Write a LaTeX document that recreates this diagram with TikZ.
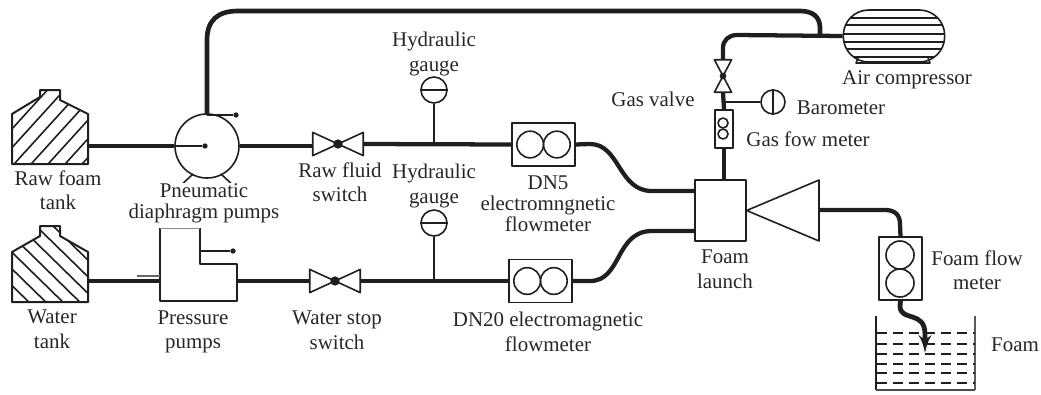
\documentclass[tikz,border=0pt]{standalone}
\usepackage{fontspec}
\setmainfont{Liberation Serif}
\usetikzlibrary{arrows}
\begin{document}
\begin{tikzpicture}[x=0.75pt,y=-0.75pt,color=black!88,line join=round]
      \tikzstyle{pipe} = [line width=3.2pt]
      \tikzstyle{thin pipe} = [line width=1.9pt]
      \tikzstyle{outline} = [line width=1.2pt]
      \tikzstyle{label} = [font=\fontsize{15.7}{18.4}\selectfont, align=center, inner sep=0pt, color=black!85]
      \tikzstyle{valve node} = [minimum width=37.5pt, minimum height=17pt, inner sep=0pt]
      \tikzstyle{gas valve node} = [minimum width=12.5pt, minimum height=24pt, inner sep=0pt]
      \tikzstyle{meter} = [draw, outline, inner sep=0pt]
      \tikzstyle{round part} = [circle, draw, outline, inner sep=0pt]
      \tikzstyle{dot} = [circle, fill, inner sep=0pt, minimum size=7pt]
      \tikzstyle{tip} = [circle, fill, inner sep=0pt, minimum size=4pt]
      %nodes
      \node (rawtank)   [minimum width=57pt, minimum height=55.5pt, inner sep=0pt] at (50,127) {};
      \node (watertank) [minimum width=57pt, minimum height=57pt, inner sep=0pt] at (50,264) {};
      \node[round part, minimum size=48pt] (pneumatic) at (207,146) {};
      \node (pressure)  [minimum width=58pt, minimum height=55pt, inner sep=0pt] at (198.5,264.5) {};
      \node[valve node] (rawswitch) at (338,144) {};
      \node[valve node] (waterswitch) at (335,281) {};
      \node[gas valve node] (gasvalve) at (723,76) {};
      \node[meter, minimum width=47pt, minimum height=32pt] (dn5) at (543.5,144.5) {};
      \node[meter, minimum width=47pt, minimum height=32pt] (dn20) at (540.5,281) {};
      \node[meter, minimum width=13.5pt, minimum height=28.5pt] (gasmeter) at (724,129) {};
      \node[meter, minimum width=32pt, minimum height=47pt] (foammeter) at (900.5,268.5) {};
      \node[round part, minimum size=19.5pt] (hgaugeup) at (434,90) {};
      \node[round part, minimum size=19.5pt] (hgaugedown) at (434,223) {};
      \node[round part, minimum size=18pt] (barometer) at (773,102) {};
      \node[draw, outline, minimum width=38pt, minimum height=46pt, inner sep=0pt] (launch) at (720.5,210.5) {};
      \node[draw, outline, rounded corners=19pt, minimum width=76pt, minimum height=39pt, inner sep=0pt] (compressor) at (894,36) {};
      \coordinate (launchcone) at (819,210);
      \coordinate (bath) at (925,353);

      %tanks
      \begin{scope}
        \clip (12,164) -- (12,114) -- (40,97) -- (40,90) -- (60,90) -- (60,100) -- (88,114) -- (88,164) -- cycle;
        \foreach \hatch in {0,...,9}
          \draw[outline] (-29+17*\hatch,174) -- (51+17*\hatch,86);
      \end{scope}
      \begin{scope}
        \clip (12,302) -- (12,252) -- (40,236) -- (40,226) -- (60,226) -- (60,236) -- (88,252) -- (88,302) -- cycle;
        \foreach \hatch in {0,...,9}
          \draw[outline] (-70+17*\hatch,222) -- (22+17*\hatch,312);
      \end{scope}
      \draw[line width=1.5pt] (12,164) -- (12,114) -- (40,97) -- (40,90) -- (60,90) -- (60,100) -- (88,114) -- (88,164) -- cycle;
      \draw[line width=1.5pt] (12,302) -- (12,252) -- (40,236) -- (40,226) -- (60,226) -- (60,236) -- (88,252) -- (88,302) -- cycle;

      %pumps
      \draw[outline] (177,189) -- (193,174) (237,189) -- (221,174);
      \draw[line width=1.4pt] (177,190) -- (237,190);
      \draw[outline] (160,228) -- (160,301) -- (237,301) -- (237,264) -- (200,264) -- (200,228);
      \draw[black!45, line width=0.6pt] (160,228) -- (200,228);
      \draw[thin pipe, black!60] (137,276) -- (160,276);
      \node[tip] (pneumatictip) at (236,115) {};
      \node[tip] (pneumaticin) at (205,146) {};
      \node[tip] (pressuretip) at (233,251) {};
      \draw[outline] (207,115) -- (pneumatictip);
      \draw[outline] (200,251) -- (pressuretip);

      %valves
      \foreach \name in {rawswitch,waterswitch}
        \draw[outline] (\name.north west) -- (\name.south east) -- (\name.north east) -- (\name.south west) -- cycle;
      \draw[outline] (gasvalve.north west) -- (gasvalve.north east) -- (gasvalve.south west) -- (gasvalve.south east) -- cycle;
      \node[dot] (rawdot) at (rawswitch) {};
      \node[dot] (waterdot) at (waterswitch) {};
      \node[dot, minimum size=5pt] (gasdot) at (gasvalve) {};

      %meters
      \foreach \name in {dn5,dn20} {
        \node[round part, minimum size=20pt] (\name a) at ([xshift=-10pt]\name) {};
        \node[round part, minimum size=20pt] (\name b) at ([xshift=10pt]\name) {};
      }
      \node[round part, minimum size=21pt] (foama) at (900,255) {};
      \node[round part, minimum size=21pt] (foamb) at (900,283) {};
      \node[round part, minimum size=7.5pt] (gasa) at (723,123) {};
      \node[round part, minimum size=7.5pt] (gasb) at (723,134) {};
      \draw[outline] (hgaugeup.west) -- (hgaugeup.east);
      \draw[outline] (hgaugedown.west) -- (hgaugedown.east);
      \draw[outline] (barometer.north) -- (barometer.south);
      \draw[outline] (launchcone) -- ++(0,-30) -- (launch.east) -- (819,241) -- cycle;

      %compressor
      \foreach \stripe/\half in {18/44,25/48,34/51,42/50,49/47,57/40}
        \draw[line width=1.5pt] (894-\half,\stripe) -- (894+\half,\stripe);
      \draw[outline] (858,58) -- (856,63) -- (930,63) -- (928,58);

      %lines
      \draw[pipe] (rawtank.east |- pneumatic) -- (pneumatic.west) ;
      \draw[outline] (pneumatic.west) -- (pneumaticin);
      \draw[pipe] (pneumatic.east) -- (rawswitch.west |- pneumatic);
      \draw[pipe] (rawswitch.east) -- (dn5.west);
      \draw[pipe] (watertank.east |- waterswitch) -- (pressure.west |- waterswitch);
      \draw[pipe] (pressure.east |- waterswitch) -- (waterswitch.west);
      \draw[pipe] (waterswitch.east) -- (dn20.west);
      \draw[thin pipe] (hgaugeup.south) -- (434,144);
      \draw[thin pipe] (hgaugedown.south) -- (434,281);
      \draw[pipe] (dn5.east) -- (590,144) .. controls (620,144) and (618,191) .. (652,191) -- (launch.west |- 0,191);
      \draw[pipe] (dn20.east) -- (590,281) .. controls (622,281) and (615,231) .. (652,231) -- (launch.west |- 0,231);
      \draw[line width=3.5pt] (207,115) -- (207,40) .. controls (207,20) and (218,11) .. (238,11) -- (800,11) .. controls (813,11) and (820,17) .. (820,28) -- (820,35);
      \draw[pipe] (compressor.west) -- (737,35) .. controls (729,35) and (723,40) .. (723,48) -- (gasvalve.north);
      \draw[pipe] (gasvalve.south) -- (gasmeter.north);
      \draw[thin pipe] (723,102) -- (barometer.west);
      \draw[pipe] (gasmeter.south) -- (launch.north -| gasmeter);
      \draw[pipe] (launchcone) -- (885,210) .. controls (895,210) and (900,215) .. (900,224) -- (foammeter.north);
      \draw[line width=3.6pt, -latex'] (foammeter.south) -- (900,306) .. controls (900,322) and (925,310) .. (925,334) -- (bath);

      %foam bath
      \draw[outline] (876,316) -- (876,390);
      \draw[line width=1.5pt, black!65] (975,316) -- (975,390);
      \draw[line width=2.2pt, black!70] (876,390) -- (975,390);
      \foreach \level in {333,344,354,364,373,383}
        \draw[outline, dash pattern=on 7.5pt off 4.5pt] (877,\level) -- (975,\level);

      %labels
      \node[label] (rawlabel) at (58,190) {Raw foam\\tank};
      \node[label] (waterlabel) at (52,329) {Water\\tank};
      \node[label, fill=white] (pneumaticlabel) at (204,203) {Pneumatic\\[-2.5pt]diaphragm pumps};
      \node[label] (pressurelabel) at (193,332) {Pressure\\pumps};
      \node[label] (rawswitchlabel) at (340,182) {Raw fluid\\switch};
      \node[label] (waterswitchlabel) at (337,330) {Water stop\\switch};
      \node[label] (hgaugeuplabel) at (434,54) {Hydraulic\\gauge};
      \node[label] (hgaugedownlabel) at (434,186) {Hydraulic\\gauge};
      \node[label] (dn5label) at (548,204) {DN5\\[-2.5pt]electromngnetic\\[-2.5pt]flowmeter};
      \node[label] (dn20label) at (548,332) {DN20 electromagnetic\\flowmeter};
      \node[label] (launchlabel) at (725,269) {Foam\\launch};
      \node[label] (compressorlabel) at (907,80) {Air compressor};
      \node[label] (gasvalvelabel) at (653,99) {Gas valve};
      \node[label] (barometerlabel) at (841,108) {Barometer};
      \node[label] (gasmeterlabel) at (808,139) {Gas fow meter};
      \node[label] (foammeterlabel) at (977,270) {Foam flow\\meter};
      \node[label] (bathlabel) at (1015,345) {Foam};
      \useasboundingbox (0,0) rectangle (1041,394);
\end{tikzpicture}
\end{document}
